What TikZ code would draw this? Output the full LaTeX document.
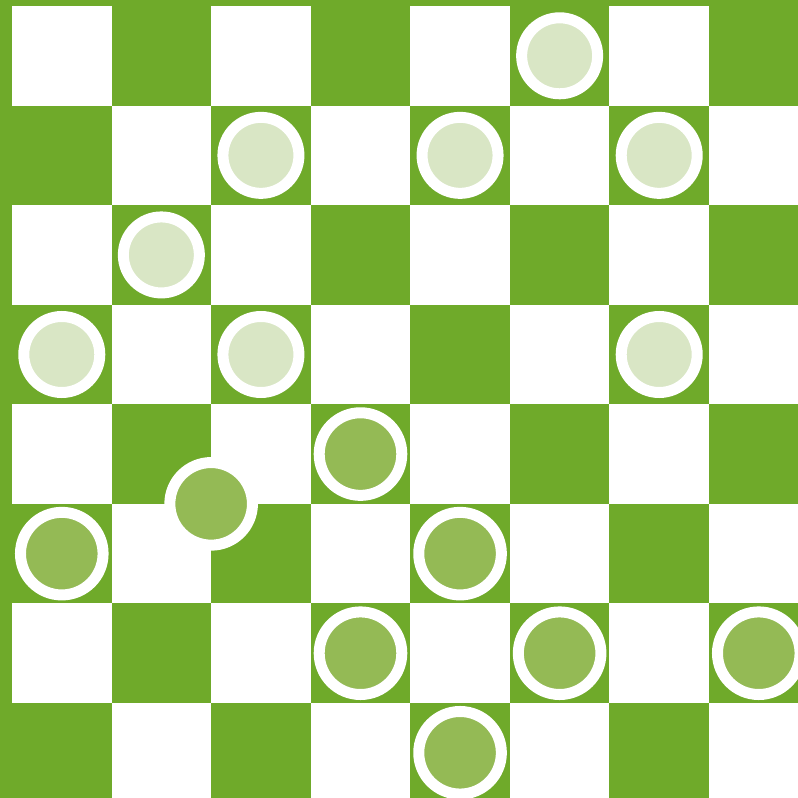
\documentclass[tikz,border=0pt]{standalone}
\definecolor{boardgreen}{HTML}{6FAA2A}
\definecolor{lightpiece}{HTML}{D9E6C5}
\definecolor{darkpiece}{HTML}{94BA55}
\tikzset{
  whitesq/.style={fill=white},
  lightman/.style={fill=lightpiece, draw=white, line width=11pt},
  darkman/.style={fill=darkpiece, draw=white, line width=11pt},
}
\begin{document}
\begin{tikzpicture}[x=1pt, y=-1pt]
\useasboundingbox (0,0) rectangle (798,798);
\fill[boardgreen] (0,0) rectangle (798,798);
\begin{scope}
\clip (0,0) rectangle (798,797);
\foreach \r in {0,...,7}{
  \foreach \c in {0,...,7}{
    \pgfmathtruncatemacro{\sqparity}{mod(\r+\c,2)}
    \ifnum\sqparity=0
      \fill[whitesq] ({12+\c*99.57},{6+\r*99.57}) rectangle ({12+(\c+1)*99.57},{6+(\r+1)*99.57});
    \fi
  }
}
% light pieces
\foreach \r/\c in {0/5, 1/2, 1/4, 1/6, 2/1, 3/0, 3/2, 3/6}{
  \draw[lightman] ({12+(\c+0.5)*99.57},{6+(\r+0.5)*99.57}) circle (38);
}
% dark pieces
\foreach \r/\c in {4/3, 4.5/1.5, 5/0, 5/4, 6/3, 6/5, 6/7, 7/4}{
  \draw[darkman] ({12+(\c+0.5)*99.57},{6+(\r+0.5)*99.57}) circle (41.3);
}
\end{scope}
\end{tikzpicture}
\end{document}
